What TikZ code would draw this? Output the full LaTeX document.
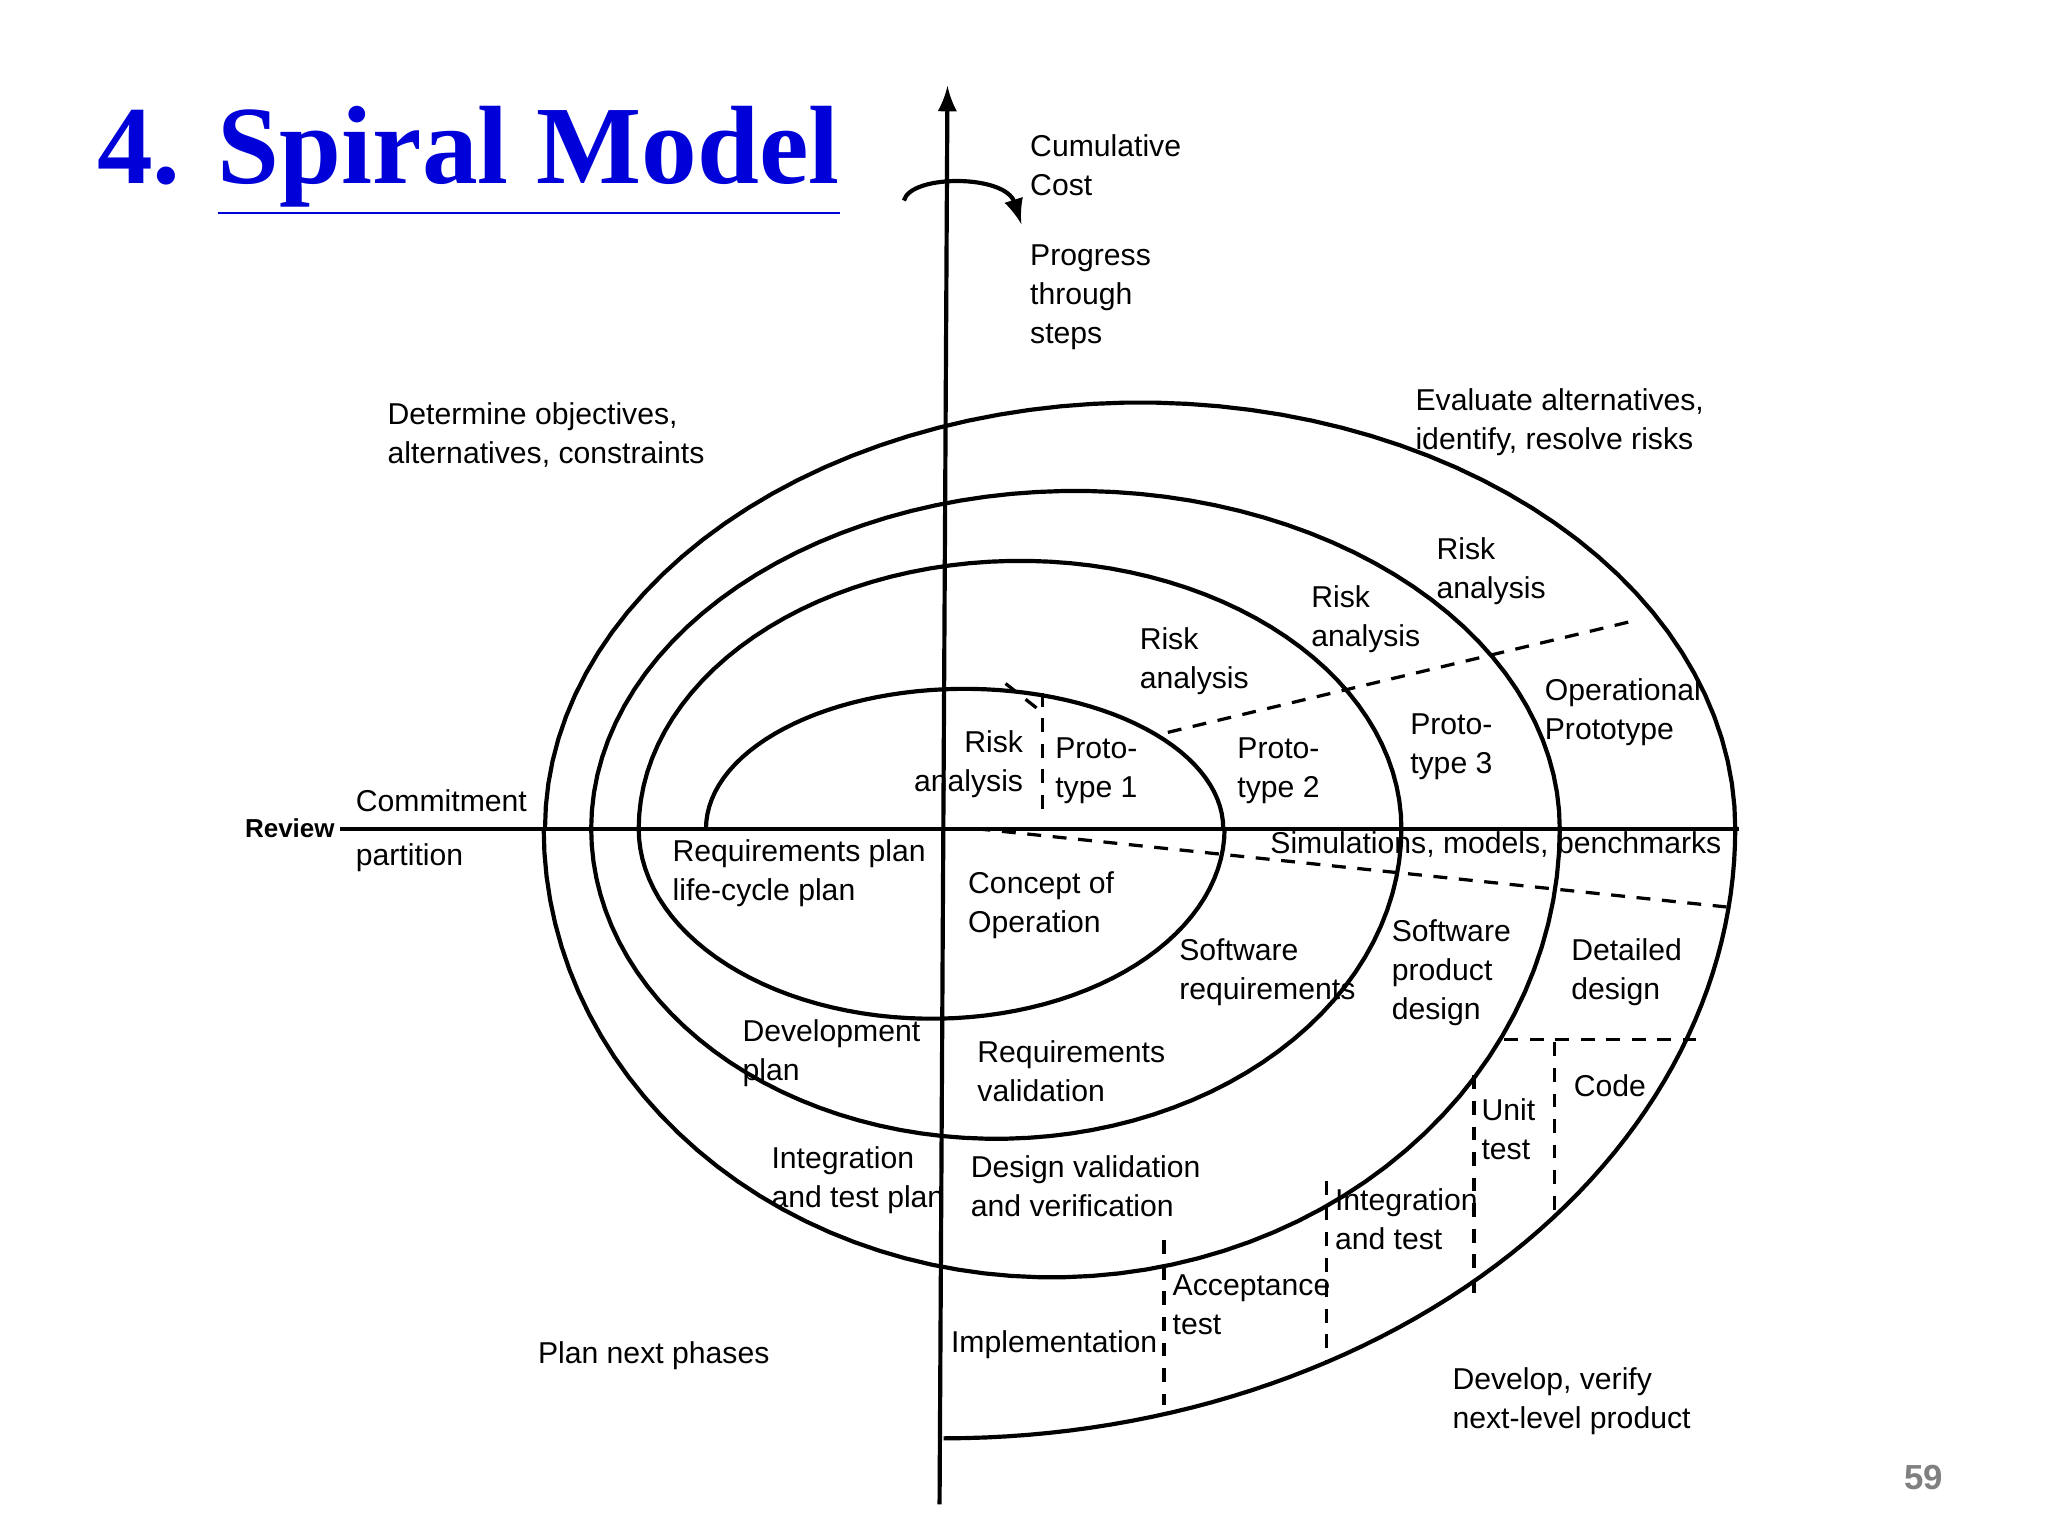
\documentclass[tikz,border=0pt]{standalone}
\usepackage{fontspec}
\setmainfont{Liberation Sans}
\newfontfamily\titlefont{Liberation Serif}
\begin{document}
\begin{tikzpicture}[x=0.01cm,y=-0.01cm,
  lbl/.style={anchor=west,align=left,font=\fontsize{6.5}{8.4}\selectfont,inner sep=0pt},
  sp/.style={line width=0.9pt},
  dsh/.style={line width=0.7pt,dash pattern=on 3pt off 2.5pt}]
\fill[white] (0,0) rectangle (1552,1164);
\useasboundingbox (0,0) rectangle (1552,1164);
% title
\node[anchor=west,inner sep=0pt,text=blue!85!black,font=\titlefont\fontsize{24}{28}\selectfont\bfseries] (title) at (73,122) {4. \underline{Spiral Model}};
\node[anchor=east,inner sep=0pt,text=gray,font=\fontsize{7.5}{9}\selectfont\bfseries] (pg) at (1473,1120) {59};
% axes
\coordinate (vb) at (712,1140); \coordinate (vt) at (718,65);
\draw[line width=0.9pt,-latex] (vb) -- (vt);
\coordinate (hl) at (258,628); \coordinate (hr) at (1318,628);
\draw[line width=0.9pt] (hl) -- (hr);
\coordinate (ra) at (685,152); \coordinate (rb) at (774,170);
\draw[line width=0.9pt,-latex] (ra) .. controls (690,132) and (762,132) .. (rb);
% spiral
\draw[sp] plot[domain=180:0,samples=60] ({731+196*cos(\x)},{628-106*sin(\x)});
\draw[sp] plot[domain=0:180,samples=60] ({706+222*cos(\x)},{628+144*sin(\x)});
\draw[sp] plot[domain=180:0,samples=60] ({773+289*cos(\x)},{628-203*sin(\x)});
\draw[sp] plot[domain=0:180,samples=60] ({755+307*cos(\x)},{628+235*sin(\x)});
\draw[sp] plot[domain=180:0,samples=60] ({815+367*cos(\x)},{628-256*sin(\x)});
\draw[sp] plot[domain=0:180,samples=60] ({797+385*cos(\x)},{628+340*sin(\x)});
\draw[sp] plot[domain=180:0,samples=60] ({864+451*cos(\x)},{628-323*sin(\x)});
\draw[sp] plot[domain=0:90,samples=60] ({715+600*cos(\x)},{628+462*sin(\x)});
% dashed
\coordinate (d1a) at (740,628); \coordinate (d1b) at (1315,688);
\draw[dsh] (d1a) -- (d1b);
\coordinate (d2a) at (885,555); \coordinate (d2b) at (1240,470);
\draw[dsh] (d2a) -- (d2b);
\coordinate (d3a) at (762,518); \coordinate (d3b) at (790,540);
\draw[dsh] (d3a) -- (d3b);
\coordinate (d4a) at (790,525); \coordinate (d4b) at (790,620);
\draw[dsh] (d4a) -- (d4b);
\coordinate (d5a) at (1140,788); \coordinate (d5b) at (1285,788);
\draw[dsh] (d5a) -- (d5b);
\coordinate (d6a) at (1178,790); \coordinate (d6b) at (1178,925);
\draw[dsh] (d6a) -- (d6b);
\coordinate (d7a) at (1117,815); \coordinate (d7b) at (1117,980);
\draw[dsh] (d7a) -- (d7b);
\coordinate (d8a) at (1005,895); \coordinate (d8b) at (1005,1032);
\draw[dsh] (d8a) -- (d8b);
\coordinate (d9a) at (882,940); \coordinate (d9b) at (882,1065);
\draw[dsh] (d9a) -- (d9b);
% labels
\node[lbl] (t1) at (780,125) {Cumulative\\Cost};
\node[lbl] (t2) at (780,225) {Progress\\through\\steps};
\node[lbl] (t3) at (293,330) {Determine objectives,\\alternatives, constraints};
\node[lbl] (t4) at (1072,320) {Evaluate alternatives,\\identify, resolve risks};
\node[lbl] (t5) at (1088,433) {Risk\\analysis};
\node[lbl] (t6) at (993,469) {Risk\\analysis};
\node[lbl] (t7) at (863,501) {Risk\\analysis};
\node[lbl] (t8) at (1170,540) {Operational\\Prototype};
\node[lbl] (t9) at (1068,566) {Proto-\\type 3};
\node[lbl] (t10) at (937,584) {Proto-\\type 2};
\node[lbl,anchor=east,align=right] (t11) at (776,579) {Risk\\analysis};
\node[lbl] (t12) at (799,584) {Proto-\\type 1};
\node[lbl,font=\fontsize{5.6}{7}\selectfont\bfseries] (t13) at (185,628) {Review};
\node[lbl] (t14) at (269,607) {Commitment};
\node[lbl] (t15) at (269,650) {partition};
\node[lbl] (t16) at (962,640) {Simulations, models, benchmarks};
\node[lbl] (t17) at (509,662) {Requirements plan\\life-cycle plan};
\node[lbl] (t18) at (733,686) {Concept of\\Operation};
\node[lbl] (t19) at (893,737) {Software\\requirements};
\node[lbl] (t20) at (1054,737) {Software\\product\\design};
\node[lbl] (t21) at (1190,737) {Detailed\\design};
\node[lbl] (t22) at (562,798) {Development\\plan};
\node[lbl] (t23) at (740,812) {Requirements\\validation};
\node[lbl] (t24) at (1192,823) {Code};
\node[lbl] (t25) at (1122,856) {Unit\\test};
\node[lbl] (t26) at (584,894) {Integration\\and test plan};
\node[lbl] (t27) at (735,899) {Design validation\\and verification};
\node[lbl] (t28) at (1011,924) {Integration\\and test};
\node[lbl] (t29) at (888,989) {Acceptance\\test};
\node[lbl] (t30) at (720,1019) {Implementation};
\node[lbl] (t31) at (407,1027) {Plan next phases};
\node[lbl] (t32) at (1100,1062) {Develop, verify\\next-level product};
\end{tikzpicture}
\end{document}
